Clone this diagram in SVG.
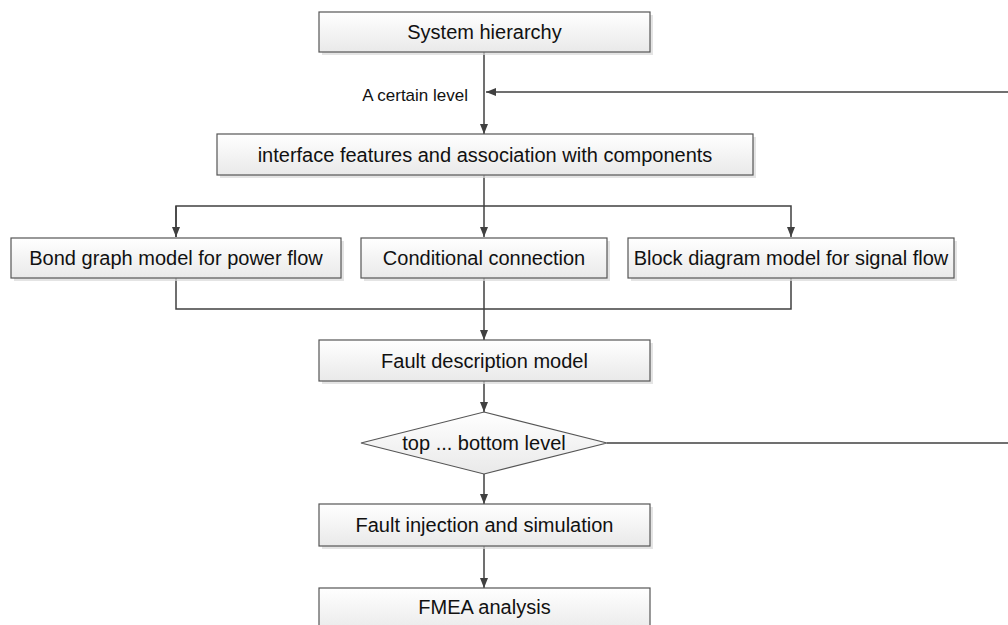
<svg xmlns="http://www.w3.org/2000/svg" width="1008" height="625" viewBox="0 0 1008 625">
<defs>
<linearGradient id="g" x1="0" y1="0" x2="0" y2="1">
<stop offset="0" stop-color="#ffffff"/>
<stop offset="1" stop-color="#e9e9e9"/>
</linearGradient>
<marker id="ah" markerWidth="10" markerHeight="10" viewBox="0 0 10 10" refX="10" refY="5" orient="auto" markerUnits="userSpaceOnUse">
<path d="M0,1 L10,5 L0,9 Z" fill="#404040"/>
</marker>
</defs>
<style>
.box{fill:url(#g);stroke:#555;stroke-width:1.2}
.sh{fill:#d8d8d8;opacity:0.7}
.t{font-family:"Liberation Sans",Arial,sans-serif;font-size:20px;fill:#111;text-anchor:middle}
.lbl{font-family:"Liberation Sans",Arial,sans-serif;font-size:17px;fill:#111;text-anchor:end}
.c{fill:none;stroke:#404040;stroke-width:1.5}
</style>
<rect width="1008" height="625" fill="#fff"/>
<g id="connectors">
<path class="c" d="M484,52 V134" marker-end="url(#ah)"/>
<path class="c" d="M1008,92 H486" marker-end="url(#ah)"/>
<path class="c" d="M484,175 V237" marker-end="url(#ah)"/>
<path class="c" d="M176,237 V206 H791 V237" marker-end="url(#ah)"/>
<path class="c" d="M176,206 V237" marker-end="url(#ah)"/>
<path class="c" d="M176,278 V309 H791 V278"/>
<path class="c" d="M484,278 V340" marker-end="url(#ah)"/>
<path class="c" d="M484,381 V412" marker-end="url(#ah)"/>
<path class="c" d="M607,443 H1008"/>
<path class="c" d="M484,474 V504" marker-end="url(#ah)"/>
<path class="c" d="M484,546 V588" marker-end="url(#ah)"/>
</g>
<text class="lbl" x="468" y="101">A certain level</text>
<g id="n1">
<rect class="sh" x="322" y="15" width="331" height="40"/>
<rect class="box" x="319" y="12" width="331" height="40"/>
<text class="t" x="484.5" y="39">System hierarchy</text>
</g>
<g id="n2">
<rect class="sh" x="220" y="137" width="536" height="41"/>
<rect class="box" x="217" y="134" width="536" height="41"/>
<text class="t" x="485" y="162">interface features and association with components</text>
</g>
<g id="n3">
<rect class="sh" x="14" y="241" width="330" height="40"/>
<rect class="box" x="11" y="238" width="330" height="40"/>
<text class="t" x="176" y="265">Bond graph model for power flow</text>
</g>
<g id="n4">
<rect class="sh" x="364" y="241" width="246" height="40"/>
<rect class="box" x="361" y="238" width="246" height="40"/>
<text class="t" x="484" y="265">Conditional connection</text>
</g>
<g id="n5">
<rect class="sh" x="631" y="241" width="326" height="40"/>
<rect class="box" x="628" y="238" width="326" height="40"/>
<text class="t" x="791" y="265">Block diagram model for signal flow</text>
</g>
<g id="n6">
<rect class="sh" x="322" y="343" width="331" height="41"/>
<rect class="box" x="319" y="340" width="331" height="41"/>
<text class="t" x="484.5" y="368">Fault description model</text>
</g>
<g id="n7">
<polygon class="box" points="484,412 607,443 484,474 361,443"/>
<text class="t" x="484" y="450">top ... bottom level</text>
</g>
<g id="n8">
<rect class="sh" x="322" y="507" width="331" height="42"/>
<rect class="box" x="319" y="504" width="331" height="42"/>
<text class="t" x="484.5" y="532">Fault injection and simulation</text>
</g>
<g id="n9">
<rect class="box" x="319" y="588" width="331" height="45"/>
<text class="t" x="484.5" y="614">FMEA analysis</text>
</g>
</svg>
